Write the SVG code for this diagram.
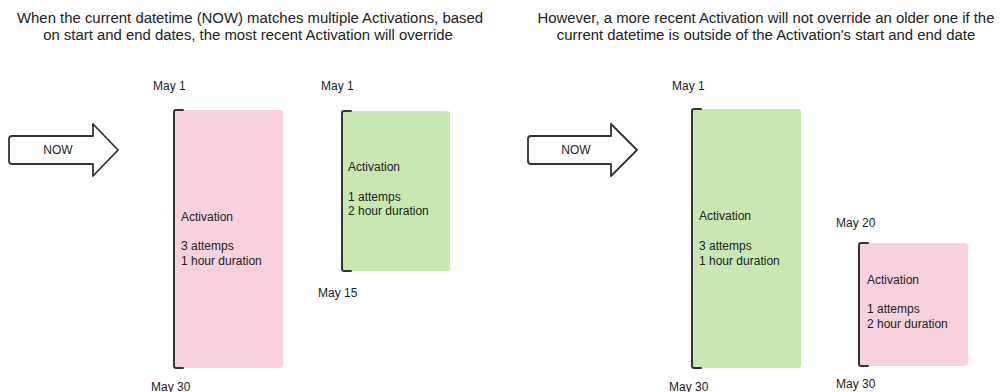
<svg xmlns="http://www.w3.org/2000/svg" width="1003" height="392" viewBox="0 0 1003 392">
<style>
text{font-family:"Liberation Sans",Arial,sans-serif;fill:#222}
.title{font-size:14.9px;text-anchor:middle}
.lbl{font-size:12px}
.pink{fill:#f9d1dd}
.green{fill:#c9e8b1}
.br{fill:none;stroke:#333;stroke-width:2;stroke-linejoin:round;stroke-linecap:round}
.arr{fill:#fff;stroke:#333;stroke-width:1.8;stroke-linejoin:round}
</style>
<rect width="1003" height="392" fill="#fff"/>
<g id="title-left">
<text class="title" x="250" y="23">When the current datetime (NOW) matches multiple Activations, based</text>
<text class="title" x="248" y="40">on start and end dates, the most recent Activation will override</text>
</g>
<g id="title-right">
<text class="title" x="766" y="23">However, a more recent Activation will not override an older one if the</text>
<text class="title" x="766" y="40">current datetime is outside of the Activation's start and end date</text>
</g>
<g id="now-left">
<path class="arr" d="M12,136 H93 V124 L118,150 L93,176 V164 H12 Q9,164 9,161 V139 Q9,136 12,136 Z"/>
<text class="lbl" x="58" y="154" text-anchor="middle">NOW</text>
</g>
<g id="now-right">
<path class="arr" d="M531,136 H611 V124 L637,150 L611,176 V164 H531 Q528,164 528,161 V139 Q528,136 531,136 Z"/>
<text class="lbl" x="576" y="154" text-anchor="middle">NOW</text>
</g>
<g id="act-left-1">
<rect class="pink" x="174" y="110" width="109" height="258" rx="3"/>
<path class="br" d="M183,110 H176 Q174,110 174,112 V366 Q174,368 176,368 H183"/>
<text class="lbl" x="181" y="221">Activation</text>
<text class="lbl" x="181" y="250">3 attemps</text>
<text class="lbl" x="181" y="265">1 hour duration</text>
</g>
<g id="act-left-2">
<rect class="green" x="342" y="111" width="108" height="160" rx="3"/>
<path class="br" d="M351,111 H344 Q342,111 342,113 V269 Q342,271 344,271 H351"/>
<text class="lbl" x="348" y="171">Activation</text>
<text class="lbl" x="348" y="201">1 attemps</text>
<text class="lbl" x="348" y="215">2 hour duration</text>
</g>
<g id="act-right-1">
<rect class="green" x="692" y="109" width="109" height="259" rx="3"/>
<path class="br" d="M701,109 H694 Q692,109 692,111 V366 Q692,368 694,368 H701"/>
<text class="lbl" x="699" y="220">Activation</text>
<text class="lbl" x="699" y="250">3 attemps</text>
<text class="lbl" x="699" y="265">1 hour duration</text>
</g>
<g id="act-right-2">
<rect class="pink" x="859" y="243" width="109" height="123" rx="3"/>
<path class="br" d="M868,243 H861 Q859,243 859,245 V364 Q859,366 861,366 H868"/>
<text class="lbl" x="867" y="284">Activation</text>
<text class="lbl" x="867" y="313">1 attemps</text>
<text class="lbl" x="867" y="328">2 hour duration</text>
</g>
<g id="dates">
<text class="lbl" x="153" y="90">May 1</text>
<text class="lbl" x="151" y="391">May 30</text>
<text class="lbl" x="321" y="90">May 1</text>
<text class="lbl" x="318" y="297">May 15</text>
<text class="lbl" x="672" y="90">May 1</text>
<text class="lbl" x="669" y="391">May 30</text>
<text class="lbl" x="836" y="227">May 20</text>
<text class="lbl" x="836" y="388">May 30</text>
</g>
</svg>
